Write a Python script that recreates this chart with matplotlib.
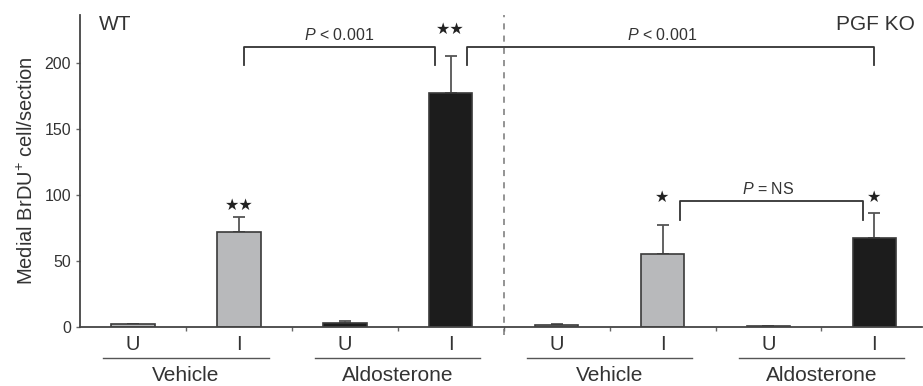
import numpy as np
import matplotlib.pyplot as plt

plt.rcParams['font.family'] = ['Liberation Sans', 'DejaVu Sans']
plt.rcParams['mathtext.fontset'] = 'custom'
plt.rcParams['mathtext.it'] = 'Liberation Sans:italic'
plt.rcParams['mathtext.rm'] = 'Liberation Sans'

# data
groups = ['Vehicle', 'Aldosterone', 'Vehicle', 'Aldosterone']
conditions = ['U', 'I', 'U', 'I', 'U', 'I', 'U', 'I']
values = [2, 72, 3, 177, 1.5, 55, 0.5, 67]
errors = [0.5, 11, 1.5, 28, 0.5, 22, 0.3, 19]
colors = ['#b8b9bb', '#b8b9bb', '#1c1c1c', '#1c1c1c',
          '#b8b9bb', '#b8b9bb', '#1c1c1c', '#1c1c1c']
stars = ['', '★★', '', '★★', '', '★', '', '★']

x = np.arange(len(values))
ink = '#333333'

fig = plt.figure(figsize=(9.23, 3.86), dpi=100)
ax = fig.add_axes([0.0867, 0.1528, 0.9123, 0.8082])

ax.bar(x, values, width=0.41, color=colors, edgecolor='#3a3a3a', linewidth=1.2, zorder=2)
ax.errorbar(x, values, yerr=[np.zeros(len(errors)), errors], fmt='none',
            ecolor='#555555', elinewidth=1.3, capsize=4, capthick=1.3, zorder=1)

ax.set_xlim(-0.5, 7.45)
ax.set_ylim(0, 236)
ax.set_yticks([0, 50, 100, 150, 200])
ax.set_xticks(np.arange(0.5, 7, 1))
ax.set_xticklabels([])
ax.tick_params(axis='x', length=3, width=1, color='#666666', direction='out')
ax.tick_params(axis='y', length=3, width=1, color='#666666', labelsize=11.5, labelcolor='#333333')
for s in ['top', 'right']:
    ax.spines[s].set_visible(False)
for s in ['left', 'bottom']:
    ax.spines[s].set_color('#444444')
    ax.spines[s].set_linewidth(1.3)
ax.set_ylabel('Medial BrDU$^{+}$ cell/section', fontsize=14.5, color='#333333', labelpad=5)

# divider between WT and KO
ax.plot([3.5, 3.5], [-6, 236], ls=(0, (4, 4)), color='#777777', lw=1.1, clip_on=False)

# condition and group labels below the axis
for xi, c in zip(x, conditions):
    ax.text(xi, -13.5, c, ha='center', va='center', fontsize=14.5, color=ink, clip_on=False)
for gi, g in enumerate(groups):
    c = 2 * gi + 0.5
    ax.plot([c - 0.78, c + 0.78], [-23.5, -23.5], color='#555555', lw=1, clip_on=False)
    ax.text(c, -37, g, ha='center', va='center', fontsize=15, color=ink, clip_on=False)

# significance stars
star_y = [None, 92, None, 225, None, 98, None, 98]
for xi, yy, s in zip(x, star_y, stars):
    if s:
        ax.text(xi, yy, s, ha='center', va='center', fontsize=11.5,
                family='DejaVu Sans', color='#222222')

# brackets
def bracket(x0, x1, ytop, y0, y1, label, lx):
    ax.plot([x0, x0, x1, x1], [y0, ytop, ytop, y1], color='#333333', lw=1.3, clip_on=False)
    ax.text(lx, ytop + 3, label, ha='center', va='bottom', fontsize=11.5, color=ink)

bracket(1.05, 2.85, 212, 198, 198, '$P$ < 0.001', 1.95)
bracket(3.15, 7.0, 212, 198, 198, '$P$ < 0.001', 5.0)
bracket(5.16, 6.89, 95.5, 81, 81, '$P$ = NS', 6.0)

ax.text(-0.32, 229, 'WT', ha='left', va='center', fontsize=15, color=ink)
ax.text(7.38, 229, 'PGF KO', ha='right', va='center', fontsize=15, color=ink)

fig.savefig('out.png', dpi=100)
